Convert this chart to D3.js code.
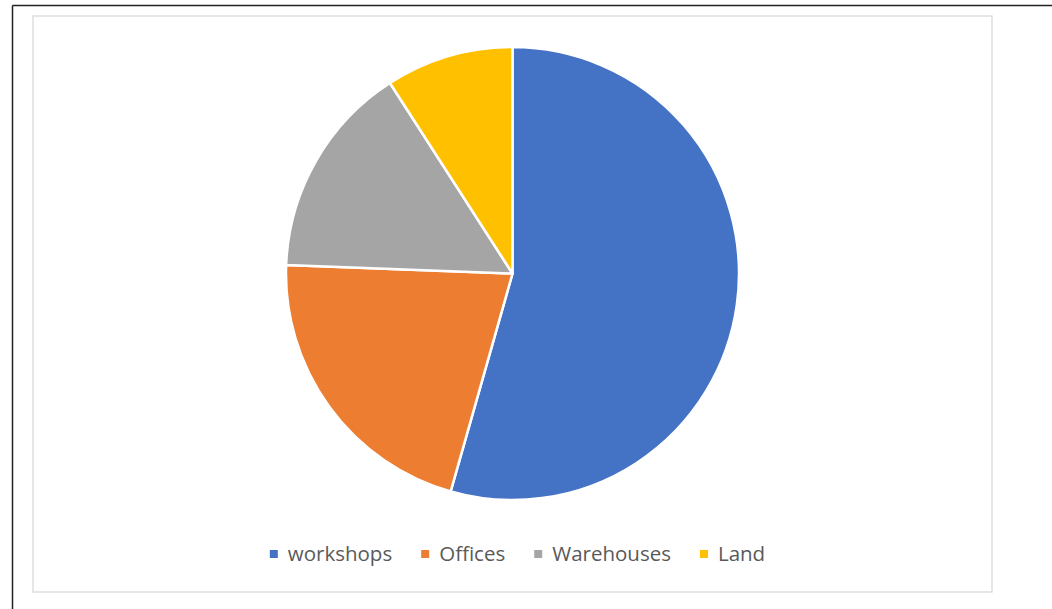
<!DOCTYPE html>
<html><head><meta charset="utf-8">
<script src="https://cdn.jsdelivr.net/npm/d3@7"></script>
<style>html,body{margin:0;padding:0;background:#fff;}svg{display:block;}</style>
</head><body>
<svg id="chart" width="1052" height="609"></svg>
<script>
const categories = ["workshops", "Offices", "Warehouses", "Land"];
const values = [54.4, 21.2, 15.3, 9.1];
const colors = ["#4472C4", "#ED7D31", "#A5A5A5", "#FFC000"];

const svg = d3.select("#chart");
// outer black frame (top and left visible)
svg.append("line").attr("x1",12.5).attr("y1",5.5).attr("x2",1052).attr("y2",5.5).attr("stroke","#222").attr("stroke-width",1.5);
svg.append("line").attr("x1",12.5).attr("y1",5.5).attr("x2",12.5).attr("y2",609).attr("stroke","#222").attr("stroke-width",1.5);
// chart area border
svg.append("rect").attr("x",33).attr("y",16).attr("width",959).attr("height",576)
  .attr("fill","#fff").attr("stroke","#D9D9D9").attr("stroke-width",1.3);

const cx = 512.5, cy = 273.5, r = 226.5;
const pie = d3.pie().sort(null).value(d => d)(values);
const arc = d3.arc().innerRadius(0).outerRadius(r);
const g = svg.append("g").attr("transform", `translate(${cx},${cy})`);
g.selectAll("path").data(pie).join("path")
  .attr("d", arc)
  .attr("fill", (d,i) => colors[i])
  .attr("stroke", "#fff").attr("stroke-width", 2.5).attr("stroke-linejoin","round");

// legend
const legend = svg.append("g");
const fontSize = 20.5;
const items = legend.selectAll("g").data(categories).join("g");
items.append("rect").attr("width",8).attr("height",8).attr("y",550).attr("fill",(d,i)=>colors[i]);
const texts = items.append("text").text(d=>d)
  .attr("y", 561).attr("font-family","'Open Sans', sans-serif")
  .attr("font-size", fontSize).attr("fill","#595959");
const widths = [];
texts.each(function(){ widths.push(this.getComputedTextLength()); });
const sq = 8, gapT = 10, gapI = 29;
let total = 0;
widths.forEach((w,i)=>{ total += sq + gapT + w + (i<widths.length-1?gapI:0); });
let x = cx - total/2 + 5;
items.each(function(d,i){
  const s = d3.select(this);
  s.select("rect").attr("x", x);
  s.select("text").attr("x", x + sq + gapT);
  x += sq + gapT + widths[i] + gapI;
});
</script>
</body></html>
